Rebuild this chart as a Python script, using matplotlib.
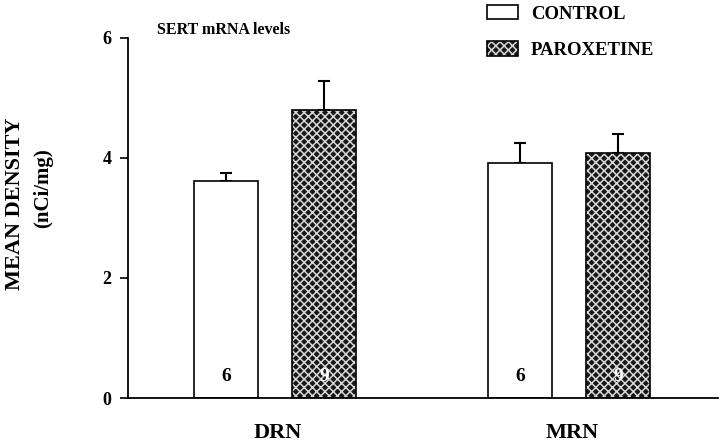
import matplotlib.pyplot as plt
import matplotlib.patches as patches
from matplotlib.legend_handler import HandlerTuple
import numpy as np

plt.rcParams['font.family'] = ['Liberation Serif', 'DejaVu Serif']
plt.rcParams['hatch.linewidth'] = 1.1

# data
regions = ['DRN', 'MRN']
control = [3.62, 3.92]
control_err = [0.13, 0.33]
paroxetine = [4.80, 4.08]
paroxetine_err = [0.48, 0.32]
n_control = ['6', '6']
n_parox = ['9', '9']
yticks = [0, 2, 4, 6]

fig = plt.figure(figsize=(7.2, 4.48), dpi=100)
ax = fig.add_axes([128 / 720, 50 / 448, 590 / 720, 360 / 448])

x = np.arange(len(regions))
off = 0.1667
w = 0.218
hatch = 'xxxx'

# control bars: plain white
ax.bar(x - off, control, w, color='white', edgecolor='black', linewidth=1.2, zorder=2)
# paroxetine bars: dark with light cross hatch, then black outline on top
ax.bar(x + off, paroxetine, w, color='#181818', edgecolor='#d8d8d8', linewidth=0,
       hatch=hatch, zorder=2)
ax.bar(x + off, paroxetine, w, fill=False, edgecolor='black', linewidth=1.2, zorder=3)

# upper-only error bars
ax.errorbar(x - off, control, yerr=[np.zeros(len(x)), control_err], fmt='none',
            ecolor='black', elinewidth=1.5, capsize=4, capthick=1.5, zorder=1)
ax.errorbar(x + off, paroxetine, yerr=[np.zeros(len(x)), paroxetine_err], fmt='none',
            ecolor='black', elinewidth=1.5, capsize=4, capthick=1.5, zorder=1)

# n numbers inside bars
for i in range(len(x)):
    ax.text(x[i] - off, 0.36, n_control[i], ha='center', va='center',
            fontsize=14, fontweight='bold', color='black', zorder=4)
    ax.text(x[i] + off, 0.36, n_parox[i], ha='center', va='center',
            fontsize=14, fontweight='bold', color='white', zorder=4)

ax.set_xlim(-0.5, 1.507)
ax.set_ylim(0, 6)
ax.set_yticks(yticks)
ax.set_yticklabels([str(t) for t in yticks], fontsize=13, fontweight='bold')
ax.tick_params(axis='y', direction='out', length=6, width=1.2, pad=6)
ax.tick_params(axis='x', length=0, pad=18)
ax.set_xticks(x + 0.01)
ax.set_xticklabels(regions, fontsize=16, fontweight='bold')
for s in ['top', 'right']:
    ax.spines[s].set_visible(False)
ax.spines['left'].set_linewidth(1.3)
ax.spines['bottom'].set_linewidth(1.3)

# y label in two lines
fig.text(15 / 720, 1 - 204 / 448, 'MEAN DENSITY', rotation=90, ha='center', va='center',
         fontsize=16, fontweight='bold')
fig.text(43 / 720, 1 - 188 / 448, '(nCi/mg)', rotation=90, ha='center', va='center',
         fontsize=15, fontweight='bold')

# panel title
fig.text(157 / 720, 1 - 30 / 448, 'SERT mRNA levels', ha='left', va='center',
         fontsize=11.5, fontweight='bold')

# legend
h_ctrl = patches.Patch(facecolor='white', edgecolor='black', linewidth=1.2)
h_par_fill = patches.Patch(facecolor='#181818', edgecolor='#d8d8d8', linewidth=0,
                           hatch=hatch)
h_par_edge = patches.Patch(fill=False, edgecolor='black', linewidth=1.2)
fig.legend([h_ctrl, (h_par_fill, h_par_edge)], ['CONTROL', 'PAROXETINE'],
           handler_map={tuple: HandlerTuple(ndivide=1)},
           loc='upper left', bbox_to_anchor=(487 / 720, 1 - 5 / 448),
           frameon=False, borderpad=0, borderaxespad=0,
           handlelength=1.65, handleheight=0.8, handletextpad=0.7,
           labelspacing=1.0, prop={'weight': 'bold', 'size': 13.5})

fig.savefig('out.png', dpi=100)
